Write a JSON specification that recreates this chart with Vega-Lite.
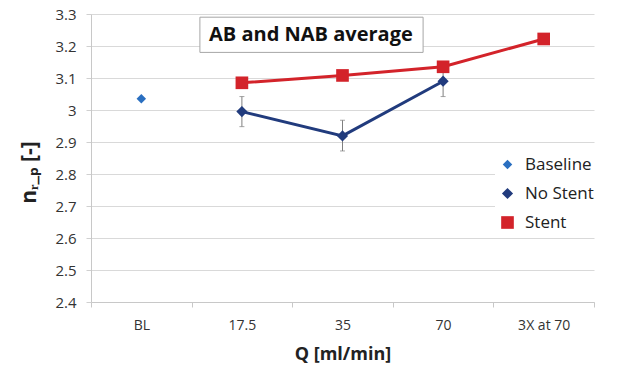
{
  "$schema": "https://vega.github.io/schema/vega-lite/v6.json",
  "autosize": "none",
  "width": 503,
  "height": 288,
  "padding": {"left": 91, "top": 14, "right": 28, "bottom": 67},
  "background": "white",
  "config": {
    "font": "Open Sans",
    "view": {"stroke": null},
    "axis": {"labelFont": "Open Sans", "titleFont": "Open Sans"}
  },
  "datasets": {
    "main": [
      {"Q": "BL", "series": "Baseline", "value": 3.035},
      {"Q": "17.5", "series": "No Stent", "value": 2.995, "lo": 2.948, "hi": 3.042},
      {"Q": "35", "series": "No Stent", "value": 2.919, "lo": 2.872, "hi": 2.968},
      {"Q": "70", "series": "No Stent", "value": 3.09, "lo": 3.042, "hi": 3.138},
      {"Q": "17.5", "series": "Stent", "value": 3.085},
      {"Q": "35", "series": "Stent", "value": 3.108},
      {"Q": "70", "series": "Stent", "value": 3.135},
      {"Q": "3X at 70", "series": "Stent", "value": 3.222}
    ],
    "label": [{"label": "AB and NAB average", "from": "17.5", "to": "70", "top": 3.29, "bottom": 3.18, "mid": 3.235}]
  },
  "layer": [
    {
      "data": {"name": "main"},
      "transform": [{"filter": "datum.series === 'No Stent'"}],
      "mark": {"type": "rule", "color": "#7f7f7f", "strokeWidth": 1},
      "encoding": {
        "x": {"field": "Q", "type": "nominal",
          "scale": {"domain": ["BL", "17.5", "35", "70", "3X at 70"], "paddingInner": 0, "paddingOuter": 0},
          "axis": {"title": "Q [ml/min]", "titleFontSize": 18, "titleFontWeight": "bold", "titleColor": "#222222", "titlePadding": 13, "labelAngle": 0, "labelFontSize": 14, "labelColor": "#333333", "labelPadding": 11, "tickBand": "extent", "tickSize": 5, "tickColor": "#c8c8c8", "domainColor": "#c8c8c8", "grid": false}},
        "y": {"field": "lo", "type": "quantitative",
          "scale": {"domain": [2.4, 3.3], "nice": false, "zero": false},
          "axis": {"title": "nᵣ_ₚ [-]", "titleFontSize": 21, "titleFontWeight": "bold", "titleColor": "#222222", "titleX": -52, "titleY": 158, "values": [2.4, 2.5, 2.6, 2.7, 2.8, 2.9, 3, 3.1, 3.2, 3.3], "format": ".1~f", "labelFontSize": 15, "labelColor": "#333333", "labelPadding": 10, "tickSize": 5, "tickColor": "#d0d0d0", "domainColor": "#c8c8c8", "gridColor": "#d9d9d9", "gridWidth": 1}},
        "y2": {"field": "hi"}
      }
    },
    {
      "data": {"name": "main"},
      "transform": [{"filter": "datum.series === 'No Stent'"}],
      "mark": {"type": "tick", "color": "#7f7f7f", "size": 5, "thickness": 1},
      "encoding": {
        "x": {"field": "Q", "type": "nominal",
          "scale": {"domain": ["BL", "17.5", "35", "70", "3X at 70"], "paddingInner": 0, "paddingOuter": 0},
          "axis": {"title": "Q [ml/min]", "titleFontSize": 18, "titleFontWeight": "bold", "titleColor": "#222222", "titlePadding": 13, "labelAngle": 0, "labelFontSize": 14, "labelColor": "#333333", "labelPadding": 11, "tickBand": "extent", "tickSize": 5, "tickColor": "#c8c8c8", "domainColor": "#c8c8c8", "grid": false}},
        "y": {"field": "lo", "type": "quantitative",
          "scale": {"domain": [2.4, 3.3], "nice": false, "zero": false},
          "axis": {"title": "nᵣ_ₚ [-]", "titleFontSize": 21, "titleFontWeight": "bold", "titleColor": "#222222", "titleX": -52, "titleY": 158, "values": [2.4, 2.5, 2.6, 2.7, 2.8, 2.9, 3, 3.1, 3.2, 3.3], "format": ".1~f", "labelFontSize": 15, "labelColor": "#333333", "labelPadding": 10, "tickSize": 5, "tickColor": "#d0d0d0", "domainColor": "#c8c8c8", "gridColor": "#d9d9d9", "gridWidth": 1}}
      }
    },
    {
      "data": {"name": "main"},
      "transform": [{"filter": "datum.series === 'No Stent'"}],
      "mark": {"type": "tick", "color": "#7f7f7f", "size": 5, "thickness": 1},
      "encoding": {
        "x": {"field": "Q", "type": "nominal",
          "scale": {"domain": ["BL", "17.5", "35", "70", "3X at 70"], "paddingInner": 0, "paddingOuter": 0},
          "axis": {"title": "Q [ml/min]", "titleFontSize": 18, "titleFontWeight": "bold", "titleColor": "#222222", "titlePadding": 13, "labelAngle": 0, "labelFontSize": 14, "labelColor": "#333333", "labelPadding": 11, "tickBand": "extent", "tickSize": 5, "tickColor": "#c8c8c8", "domainColor": "#c8c8c8", "grid": false}},
        "y": {"field": "hi", "type": "quantitative",
          "scale": {"domain": [2.4, 3.3], "nice": false, "zero": false},
          "axis": {"title": "nᵣ_ₚ [-]", "titleFontSize": 21, "titleFontWeight": "bold", "titleColor": "#222222", "titleX": -52, "titleY": 158, "values": [2.4, 2.5, 2.6, 2.7, 2.8, 2.9, 3, 3.1, 3.2, 3.3], "format": ".1~f", "labelFontSize": 15, "labelColor": "#333333", "labelPadding": 10, "tickSize": 5, "tickColor": "#d0d0d0", "domainColor": "#c8c8c8", "gridColor": "#d9d9d9", "gridWidth": 1}}
      }
    },
    {
      "data": {"name": "main"},
      "transform": [{"filter": "datum.series === 'No Stent'"}],
      "mark": {"type": "line", "strokeWidth": 3, "color": "#213b7d"},
      "encoding": {
        "x": {"field": "Q", "type": "nominal",
          "scale": {"domain": ["BL", "17.5", "35", "70", "3X at 70"], "paddingInner": 0, "paddingOuter": 0},
          "axis": {"title": "Q [ml/min]", "titleFontSize": 18, "titleFontWeight": "bold", "titleColor": "#222222", "titlePadding": 13, "labelAngle": 0, "labelFontSize": 14, "labelColor": "#333333", "labelPadding": 11, "tickBand": "extent", "tickSize": 5, "tickColor": "#c8c8c8", "domainColor": "#c8c8c8", "grid": false}},
        "y": {"field": "value", "type": "quantitative",
          "scale": {"domain": [2.4, 3.3], "nice": false, "zero": false},
          "axis": {"title": "nᵣ_ₚ [-]", "titleFontSize": 21, "titleFontWeight": "bold", "titleColor": "#222222", "titleX": -52, "titleY": 158, "values": [2.4, 2.5, 2.6, 2.7, 2.8, 2.9, 3, 3.1, 3.2, 3.3], "format": ".1~f", "labelFontSize": 15, "labelColor": "#333333", "labelPadding": 10, "tickSize": 5, "tickColor": "#d0d0d0", "domainColor": "#c8c8c8", "gridColor": "#d9d9d9", "gridWidth": 1}}
      }
    },
    {
      "data": {"name": "main"},
      "transform": [{"filter": "datum.series === 'Stent'"}],
      "mark": {"type": "line", "strokeWidth": 3, "color": "#d3232a"},
      "encoding": {
        "x": {"field": "Q", "type": "nominal",
          "scale": {"domain": ["BL", "17.5", "35", "70", "3X at 70"], "paddingInner": 0, "paddingOuter": 0},
          "axis": {"title": "Q [ml/min]", "titleFontSize": 18, "titleFontWeight": "bold", "titleColor": "#222222", "titlePadding": 13, "labelAngle": 0, "labelFontSize": 14, "labelColor": "#333333", "labelPadding": 11, "tickBand": "extent", "tickSize": 5, "tickColor": "#c8c8c8", "domainColor": "#c8c8c8", "grid": false}},
        "y": {"field": "value", "type": "quantitative",
          "scale": {"domain": [2.4, 3.3], "nice": false, "zero": false},
          "axis": {"title": "nᵣ_ₚ [-]", "titleFontSize": 21, "titleFontWeight": "bold", "titleColor": "#222222", "titleX": -52, "titleY": 158, "values": [2.4, 2.5, 2.6, 2.7, 2.8, 2.9, 3, 3.1, 3.2, 3.3], "format": ".1~f", "labelFontSize": 15, "labelColor": "#333333", "labelPadding": 10, "tickSize": 5, "tickColor": "#d0d0d0", "domainColor": "#c8c8c8", "gridColor": "#d9d9d9", "gridWidth": 1}}
      }
    },
    {
      "data": {"name": "main"},
      "mark": {"type": "point", "filled": true, "opacity": 1},
      "encoding": {
        "x": {"field": "Q", "type": "nominal",
          "scale": {"domain": ["BL", "17.5", "35", "70", "3X at 70"], "paddingInner": 0, "paddingOuter": 0},
          "axis": {"title": "Q [ml/min]", "titleFontSize": 18, "titleFontWeight": "bold", "titleColor": "#222222", "titlePadding": 13, "labelAngle": 0, "labelFontSize": 14, "labelColor": "#333333", "labelPadding": 11, "tickBand": "extent", "tickSize": 5, "tickColor": "#c8c8c8", "domainColor": "#c8c8c8", "grid": false}},
        "y": {"field": "value", "type": "quantitative",
          "scale": {"domain": [2.4, 3.3], "nice": false, "zero": false},
          "axis": {"title": "nᵣ_ₚ [-]", "titleFontSize": 21, "titleFontWeight": "bold", "titleColor": "#222222", "titleX": -52, "titleY": 158, "values": [2.4, 2.5, 2.6, 2.7, 2.8, 2.9, 3, 3.1, 3.2, 3.3], "format": ".1~f", "labelFontSize": 15, "labelColor": "#333333", "labelPadding": 10, "tickSize": 5, "tickColor": "#d0d0d0", "domainColor": "#c8c8c8", "gridColor": "#d9d9d9", "gridWidth": 1}},
        "color": {"field": "series", "type": "nominal",
          "scale": {"domain": ["Baseline", "No Stent", "Stent"], "range": ["#2a6fc0", "#213b7d", "#d3232a"]},
          "legend": {"title": null, "orient": "none", "legendX": 404, "legendY": 138, "fillColor": "white", "padding": 4, "labelFontSize": 17, "labelColor": "#222222", "labelFont": "Open Sans", "rowPadding": 11, "labelOffset": 9}},
        "shape": {"field": "series", "type": "nominal",
          "scale": {"domain": ["Baseline", "No Stent", "Stent"], "range": ["diamond", "diamond", "square"]},
          "legend": {"title": null, "orient": "none", "legendX": 404, "legendY": 138, "fillColor": "white", "padding": 4, "labelFontSize": 17, "labelColor": "#222222", "labelFont": "Open Sans", "rowPadding": 11, "labelOffset": 9}},
        "size": {"field": "series", "type": "nominal",
          "scale": {"domain": ["Baseline", "No Stent", "Stent"], "range": [90, 160, 200]},
          "legend": {"title": null, "orient": "none", "legendX": 404, "legendY": 138, "fillColor": "white", "padding": 4, "labelFontSize": 17, "labelColor": "#222222", "labelFont": "Open Sans", "rowPadding": 11, "labelOffset": 9}}
      }
    },
    {
      "data": {"name": "label"},
      "mark": {"type": "rect", "fill": "white", "stroke": "#a6a6a6", "strokeWidth": 1, "xOffset": -42, "x2Offset": -20},
      "encoding": {
        "x": {"field": "from", "type": "nominal",
          "scale": {"domain": ["BL", "17.5", "35", "70", "3X at 70"], "paddingInner": 0, "paddingOuter": 0},
          "axis": {"title": "Q [ml/min]", "titleFontSize": 18, "titleFontWeight": "bold", "titleColor": "#222222", "titlePadding": 13, "labelAngle": 0, "labelFontSize": 14, "labelColor": "#333333", "labelPadding": 11, "tickBand": "extent", "tickSize": 5, "tickColor": "#c8c8c8", "domainColor": "#c8c8c8", "grid": false}},
        "x2": {"field": "to"},
        "y": {"field": "top", "type": "quantitative",
          "scale": {"domain": [2.4, 3.3], "nice": false, "zero": false},
          "axis": {"title": "nᵣ_ₚ [-]", "titleFontSize": 21, "titleFontWeight": "bold", "titleColor": "#222222", "titleX": -52, "titleY": 158, "values": [2.4, 2.5, 2.6, 2.7, 2.8, 2.9, 3, 3.1, 3.2, 3.3], "format": ".1~f", "labelFontSize": 15, "labelColor": "#333333", "labelPadding": 10, "tickSize": 5, "tickColor": "#d0d0d0", "domainColor": "#c8c8c8", "gridColor": "#d9d9d9", "gridWidth": 1}},
        "y2": {"field": "bottom"}
      }
    },
    {
      "data": {"name": "label"},
      "mark": {"type": "text", "fontSize": 20, "fontWeight": "bold", "color": "#111111", "dx": 69, "font": "Open Sans"},
      "encoding": {
        "x": {"field": "from", "type": "nominal",
          "scale": {"domain": ["BL", "17.5", "35", "70", "3X at 70"], "paddingInner": 0, "paddingOuter": 0},
          "axis": {"title": "Q [ml/min]", "titleFontSize": 18, "titleFontWeight": "bold", "titleColor": "#222222", "titlePadding": 13, "labelAngle": 0, "labelFontSize": 14, "labelColor": "#333333", "labelPadding": 11, "tickBand": "extent", "tickSize": 5, "tickColor": "#c8c8c8", "domainColor": "#c8c8c8", "grid": false}},
        "y": {"field": "mid", "type": "quantitative",
          "scale": {"domain": [2.4, 3.3], "nice": false, "zero": false},
          "axis": {"title": "nᵣ_ₚ [-]", "titleFontSize": 21, "titleFontWeight": "bold", "titleColor": "#222222", "titleX": -52, "titleY": 158, "values": [2.4, 2.5, 2.6, 2.7, 2.8, 2.9, 3, 3.1, 3.2, 3.3], "format": ".1~f", "labelFontSize": 15, "labelColor": "#333333", "labelPadding": 10, "tickSize": 5, "tickColor": "#d0d0d0", "domainColor": "#c8c8c8", "gridColor": "#d9d9d9", "gridWidth": 1}},
        "text": {"field": "label"}
      }
    }
  ]
}
